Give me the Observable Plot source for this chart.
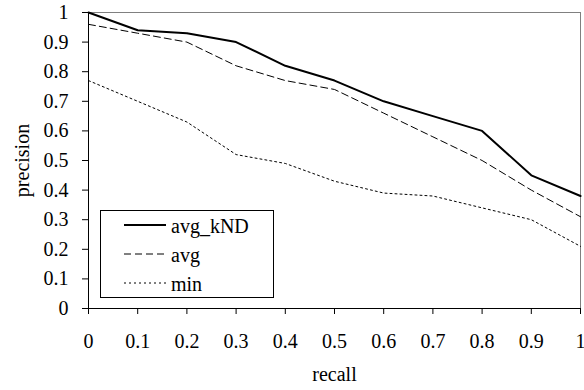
<!DOCTYPE html>
<html>
<head>
<meta charset="utf-8">
<script src="https://cdn.jsdelivr.net/npm/d3@7"></script>
<script src="https://cdn.jsdelivr.net/npm/@observablehq/plot@0.6"></script>
<style>
  html, body { margin: 0; padding: 0; background: #fff; }
  #chart { position: relative; width: 584px; height: 390px; }
</style>
</head>
<body>
<div id="chart"></div>
<script>
const recall = [0, 0.1, 0.2, 0.3, 0.4, 0.5, 0.6, 0.7, 0.8, 0.9, 1];
const avgKND = [1.00, 0.94, 0.93, 0.90, 0.82, 0.77, 0.70, 0.65, 0.60, 0.45, 0.38];
const avg    = [0.96, 0.93, 0.90, 0.82, 0.77, 0.74, 0.66, 0.58, 0.50, 0.40, 0.31];
const minv   = [0.77, 0.70, 0.63, 0.52, 0.49, 0.43, 0.39, 0.38, 0.34, 0.30, 0.21];
const seriesNames = ["avg_kND", "avg", "min"];
const tickValues = [0, 0.1, 0.2, 0.3, 0.4, 0.5, 0.6, 0.7, 0.8, 0.9, 1];
const tickLabels = ["0", "0.1", "0.2", "0.3", "0.4", "0.5", "0.6", "0.7", "0.8", "0.9", "1"];

const FONT = "Liberation Serif, Times New Roman, serif";
const FS = 20;
const styles = {
  "avg_kND": {strokeWidth: 2, dash: null},
  "avg": {strokeWidth: 1, dash: "7,4"},
  "min": {strokeWidth: 1, dash: "2,3"}
};
const seriesValues = [avgKND, avg, minv];
const data = seriesNames.flatMap((s, i) => recall.map((r, j) => ({series: s, recall: r, precision: seriesValues[i][j]})));
const fmt = d => tickLabels[tickValues.findIndex(v => Math.abs(v - d) < 1e-9)];

const plot = Plot.plot({
  width: 584,
  height: 390,
  marginLeft: 88,
  marginRight: 4,
  marginTop: 12,
  marginBottom: 82,
  style: {color: "#000", background: "#fff", fontFamily: FONT, fontSize: FS + "px"},
  x: {domain: [0, 1], ticks: tickValues, tickFormat: fmt, label: null},
  y: {domain: [0, 1], ticks: tickValues, tickFormat: fmt, label: null},
  marks: [
    Plot.ruleY([1], {stroke: "#808080", strokeWidth: 1}),
    Plot.ruleX([1], {stroke: "#808080", strokeWidth: 1}),
    ...seriesNames.map(s => Plot.line(data.filter(d => d.series === s), {
      x: "recall", y: "precision", stroke: "#000",
      strokeWidth: styles[s].strokeWidth,
      strokeDasharray: styles[s].dash
    })),
    Plot.axisX({ticks: tickValues, tickFormat: fmt, tickSize: 6, tickPadding: 19, fontSize: FS, stroke: "#000", strokeOpacity: 1, label: "recall", labelAnchor: "center", labelArrow: "none", labelOffset: 72}),
    Plot.axisY({ticks: tickValues, tickFormat: fmt, tickSize: 6, tickPadding: 14, fontSize: FS, stroke: "#000", strokeOpacity: 1, label: "precision", labelAnchor: "center", labelArrow: "none", labelOffset: 74}),
    Plot.ruleX([0], {stroke: "#000", strokeWidth: 1}),
    Plot.ruleY([0], {stroke: "#000", strokeWidth: 1})
  ]
});
document.getElementById("chart").appendChild(plot);

const svg = d3.select(plot);
svg.selectAll("text").attr("font-family", FONT).attr("font-size", FS);
const lg = svg.append("g").attr("font-family", FONT).attr("font-size", FS).attr("text-anchor", "start");
lg.append("rect").attr("x", 100.5).attr("y", 210.5).attr("width", 173).attr("height", 87)
  .attr("fill", "#fff").attr("stroke", "#000").attr("stroke-width", 1);
seriesNames.forEach((s, i) => {
  const y = 225 + i * 29;
  lg.append("line").attr("x1", 124).attr("x2", 166).attr("y1", y).attr("y2", y)
    .attr("stroke", "#000").attr("stroke-width", styles[s].strokeWidth)
    .attr("stroke-dasharray", styles[s].dash);
  lg.append("text").attr("x", 171).attr("y", y).attr("dy", "0.38em")
    .attr("text-anchor", "start").attr("fill", "#000").text(s);
});
</script>
</body>
</html>
